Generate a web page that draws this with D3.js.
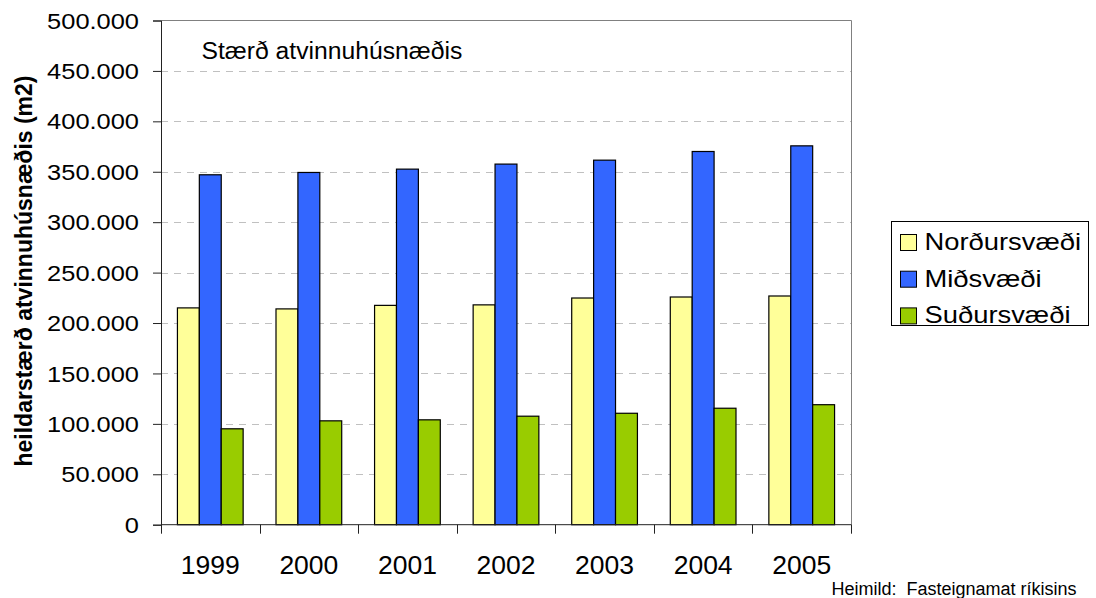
<!DOCTYPE html>
<html>
<head>
<meta charset="utf-8">
<script src="https://cdn.jsdelivr.net/npm/d3@7/dist/d3.min.js"></script>
<style>
  html, body { margin: 0; padding: 0; background: #fff; }
  svg { display: block; font-family: "Liberation Sans", Arial, sans-serif; }
</style>
</head>
<body>
<svg id="chart" width="1096" height="598"></svg>
<script>
// Years on the category axis
const years = ["1999", "2000", "2001", "2002", "2003", "2004", "2005"];
// Series names (legend order)
const seriesNames = ["Norðursvæði", "Miðsvæði", "Suðursvæði"];
// Floor area (m2) per area and year
const nordursvaedi = [215000, 214000, 217500, 218000, 224800, 225800, 226800];
const midsvaedi    = [347000, 349300, 352600, 357600, 361500, 370100, 375700];
const sudursvaedi  = [95100, 103000, 104000, 107600, 110500, 115500, 119000];
// Value axis ticks
const yTicks = [0, 50000, 100000, 150000, 200000, 250000, 300000, 350000, 400000, 450000, 500000];

const seriesValues = [nordursvaedi, midsvaedi, sudursvaedi];
const colors = ["#FFFF99", "#3366FF", "#99CC00"];

const svg = d3.select("#chart");
const plot = { left: 161, right: 851, top: 20.5, bottom: 524.7 };

const locale = d3.formatLocale({ decimal: ",", thousands: ".", grouping: [3], currency: ["", " kr."] });
const fmt = locale.format(",d");

const y = d3.scaleLinear().domain([0, 500000]).range([plot.bottom, plot.top]);
const gapRatio = 1.5 / 4.5;
const x0 = d3.scaleBand().domain(years).range([plot.left, plot.right])
  .paddingInner(gapRatio).paddingOuter(gapRatio / 2);
const x1 = d3.scaleBand().domain(seriesNames).range([0, x0.bandwidth()]);

// Horizontal dashed gridlines
svg.append("g").selectAll("line")
  .data(yTicks.filter(v => v > 0 && v < 500000))
  .join("line")
  .attr("x1", plot.left).attr("x2", plot.right)
  .attr("y1", d => Math.round(y(d)) + 0.5).attr("y2", d => Math.round(y(d)) + 0.5)
  .attr("stroke", "#c0c0c0").attr("stroke-width", 1)
  .attr("stroke-dasharray", "7,6");

// Plot frame (top and right)
svg.append("path")
  .attr("d", `M${plot.left},${plot.top}H${plot.right + 0.5}V${plot.bottom}`)
  .attr("fill", "none").attr("stroke", "#808080").attr("stroke-width", 1);

// Bars
const groups = svg.append("g").selectAll("g")
  .data(years)
  .join("g")
  .attr("transform", d => `translate(${x0(d)},0)`);

groups.selectAll("rect")
  .data((yr, i) => seriesNames.map((s, k) => ({ s, k, v: seriesValues[k][i] })))
  .join("rect")
  .attr("x", d => x1(d.s))
  .attr("width", x1.bandwidth())
  .attr("y", d => y(d.v))
  .attr("height", d => plot.bottom - y(d.v))
  .attr("fill", d => colors[d.k])
  .attr("stroke", "#000").attr("stroke-width", 1.2);

// Y axis
const yAxis = d3.axisLeft(y).tickValues(yTicks).tickSize(8).tickFormat("");
const gy = svg.append("g").attr("transform", `translate(${plot.left},0)`).call(yAxis);
gy.select(".domain").attr("stroke", "#222");
gy.selectAll(".tick line").attr("stroke", "#222");

// Y tick labels, slightly widened
svg.append("g").selectAll("g")
  .data(yTicks)
  .join("g")
  .attr("transform", d => `translate(139,${y(d)}) scale(1.13,1)`)
  .append("text")
  .attr("text-anchor", "end")
  .attr("dy", "0.36em")
  .attr("font-size", 22.5)
  .attr("fill", "#000")
  .text(d => fmt(d));

// X axis with ticks at category boundaries
svg.append("line")
  .attr("x1", plot.left).attr("x2", plot.right + 0.5)
  .attr("y1", plot.bottom).attr("y2", plot.bottom)
  .attr("stroke", "#222");
const step = x0.step();
const boundaries = years.map(yr => x0(yr) - step * gapRatio / 2).concat([plot.right]);
svg.append("g").selectAll("line")
  .data(boundaries)
  .join("line")
  .attr("x1", d => Math.round(d) + 0.5).attr("x2", d => Math.round(d) + 0.5)
  .attr("y1", plot.bottom).attr("y2", plot.bottom + 9)
  .attr("stroke", "#222");

svg.append("g").selectAll("text")
  .data(years)
  .join("text")
  .attr("x", d => x0(d) + x0.bandwidth() / 2)
  .attr("y", 574)
  .attr("text-anchor", "middle")
  .attr("font-size", 26.5)
  .attr("fill", "#000")
  .text(d => d);

// Y axis title
svg.append("text")
  .attr("transform", "translate(32,271) rotate(-90)")
  .attr("text-anchor", "middle")
  .attr("font-size", 23)
  .attr("font-weight", "bold")
  .attr("fill", "#000")
  .text("heildarstærð atvinnuhúsnæðis (m2)");

// Chart title inside plot
svg.append("text")
  .attr("x", 201.5).attr("y", 58.5)
  .attr("font-size", 24.7)
  .attr("fill", "#000")
  .text("Stærð atvinnuhúsnæðis");

// Legend
const legend = svg.append("g");
legend.append("rect")
  .attr("x", 891.5).attr("y", 221.5).attr("width", 197).attr("height", 104)
  .attr("fill", "#fff").attr("stroke", "#000").attr("stroke-width", 1);
const items = legend.selectAll("g.item")
  .data(seriesNames)
  .join("g")
  .attr("class", "item")
  .attr("transform", (d, i) => `translate(0,${i * 36.7})`);
items.append("rect")
  .attr("x", 900.5).attr("y", 234.5).attr("width", 16).attr("height", 16)
  .attr("fill", (d, i) => colors[i]).attr("stroke", "#000").attr("stroke-width", 1);
items.append("g")
  .attr("transform", "translate(924.5,250) scale(1.19,1)")
  .append("text")
  .attr("font-size", 23)
  .attr("fill", "#000")
  .text(d => d);

// Source note
svg.append("text")
  .attr("x", 831.5).attr("y", 595)
  .attr("font-size", 18)
  .attr("fill", "#000")
  .attr("xml:space", "preserve")
  .style("white-space", "pre")
  .text("Heimild:  Fasteignamat ríkisins");
</script>
</body>
</html>
